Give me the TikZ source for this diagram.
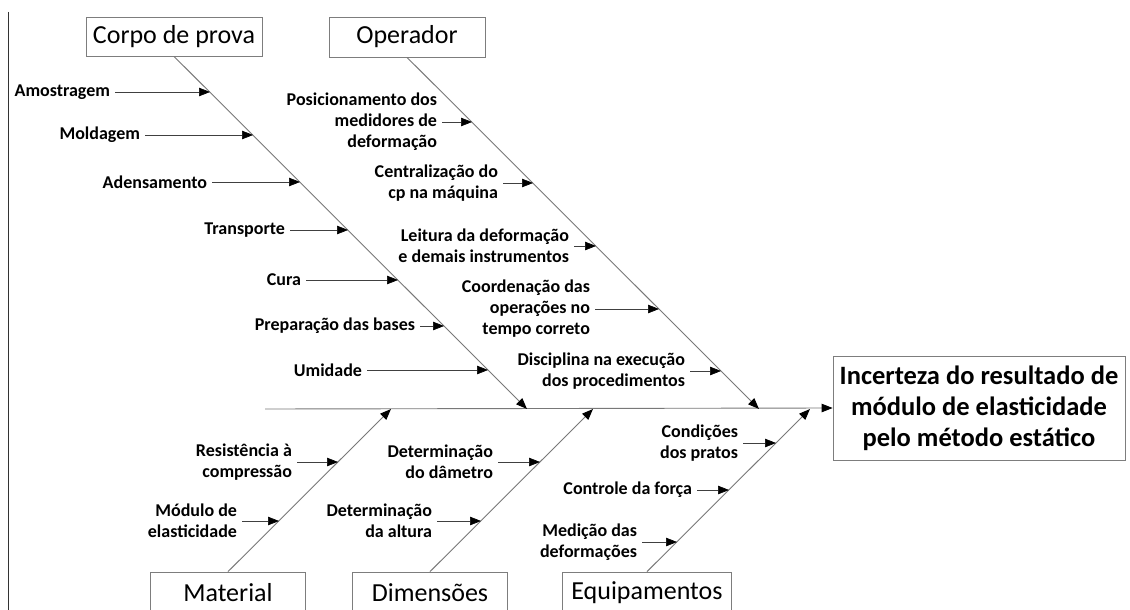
\documentclass[tikz,border=0pt]{standalone}
\usepackage{fontspec}
\setmainfont{Carlito}
\usetikzlibrary{arrows.meta}
\definecolor{linegray}{RGB}{120,120,120}
\definecolor{boxgray}{RGB}{125,125,125}
\begin{document}
\begin{tikzpicture}[x=1pt,y=-1pt,
  lbl/.style={font=\fontsize{18}{21}\selectfont\bfseries, align=right, anchor=east, inner sep=0pt, outer sep=5pt},
  cat/.style={draw=boxgray, line width=0.8pt, font=\fontsize{26}{31}\selectfont, inner sep=0pt},
  effect/.style={draw=boxgray, line width=0.8pt, font=\fontsize{26.5}{31}\selectfont\bfseries, align=center, inner sep=0pt, minimum width=292pt, minimum height=104pt},
  tip/.style={-{Triangle[length=11pt,width=8.5pt,color=black]}},
  rib/.style={draw=black!75, line width=0.6pt, tip},
  bone/.style={draw=linegray, line width=0.9pt, tip}]
\useasboundingbox (0,0) rectangle (1130,610);
\fill[white] (0,0) rectangle (1130,610);
% left rule
\draw[black!80, line width=0.9pt] (8,12) -- (8,610);

% category boxes
\node[cat, minimum width=176pt, minimum height=39pt] (cp) at (174,36.5) {Corpo de prova};
\node[cat, minimum width=156pt, minimum height=40pt] (op) at (407,37) {Operador};
\node[cat, minimum width=155pt, minimum height=42pt] (mat) at (228,593) {Material};
\node[cat, minimum width=155pt, minimum height=42pt] (dim) at (430,593) {Dimensões};
\node[cat, minimum width=169pt, minimum height=42pt] (eq) at (647,593) {Equipamentos};

% effect
\node[effect] (eff) at (979,408) {Incerteza do resultado de\\módulo de elasticidade\\pelo método estático};

% spine
\coordinate (sp0) at (265,409);
\draw[bone] (sp0) -- (eff.west);

% bone ends on spine
\coordinate (cpE) at (527,409);
\coordinate (opE) at (759,409);
\coordinate (matE) at (391,409);
\coordinate (dimE) at (593,409);
\coordinate (eqE) at (810,409);
\draw[bone] (cp.south) -- (cpE);
\draw[bone] (op.south) -- (opE);
\draw[bone] (mat.north) -- (matE);
\draw[bone] (dim.north) -- (dimE);
\draw[bone] (eq.north) -- (eqE);

% Corpo de prova causes
\node[lbl] (a1) at (115,92) {Amostragem};
\node[lbl] (a2) at (145,135) {Moldagem};
\node[lbl] (a3) at (212,182) {Adensamento};
\node[lbl] (a4) at (290,230) {Transporte};
\node[lbl] (a5) at (306,280) {Cura};
\node[lbl] (a6) at (420,326) {Preparação das bases};
\node[lbl] (a7) at (367,370) {Umidade};
\coordinate (ta1) at (210,92);
\coordinate (ta2) at (253,135);
\coordinate (ta3) at (300,182);
\coordinate (ta4) at (348,230);
\coordinate (ta5) at (398,280);
\coordinate (ta6) at (444,326);
\coordinate (ta7) at (488,370);
\foreach \i in {1,...,7} {\draw[rib] (a\i) -- (ta\i);}

% Operador causes
\node[lbl] (b1) at (442,122) {Posicionamento dos\\medidores de\\deformação};
\node[lbl] (b2) at (503,183) {Centralização do\\cp na máquina};
\node[lbl] (b3) at (574,246) {Leitura da deformação\\e demais instrumentos};
\node[lbl] (b4) at (595,309) {Coordenação das\\operações no\\tempo correto};
\node[lbl] (b5) at (690,371) {Disciplina na execução\\dos procedimentos};
\coordinate (tb1) at (472,122);
\coordinate (tb2) at (533,183);
\coordinate (tb3) at (596,246);
\coordinate (tb4) at (659,309);
\coordinate (tb5) at (721,371);
\foreach \i in {1,...,5} {\draw[rib] (b\i) -- (tb\i);}

% Material causes
\node[lbl] (c1) at (297,462) {Resistência à\\compressão};
\node[lbl] (c2) at (242,521) {Módulo de\\elasticidade};
\coordinate (tc1) at (338,462);
\coordinate (tc2) at (279,521);
\draw[rib] (c1) -- (tc1);
\draw[rib] (c2) -- (tc2);

% Dimensoes causes
\node[lbl] (d1) at (498,462) {Determinação\\do dâmetro};
\node[lbl] (d2) at (437,521) {Determinação\\da altura};
\coordinate (td1) at (540,462);
\coordinate (td2) at (481,521);
\draw[rib] (d1) -- (td1);
\draw[rib] (d2) -- (td2);

% Equipamentos causes
\node[lbl] (e1) at (743,443) {Condições\\dos pratos};
\node[lbl] (e2) at (697,490) {Controle da força};
\node[lbl] (e3) at (642,542) {Medição das\\deformações};
\coordinate (te1) at (776,443);
\coordinate (te2) at (729,490);
\coordinate (te3) at (677,542);
\draw[rib] (e1) -- (te1);
\draw[rib] (e2) -- (te2);
\draw[rib] (e3) -- (te3);
\end{tikzpicture}
\end{document}
